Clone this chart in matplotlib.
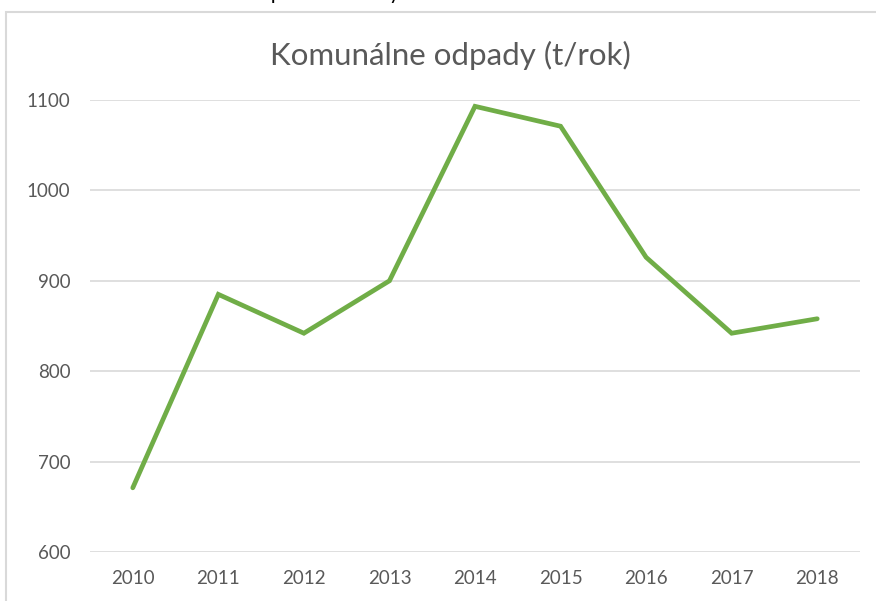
import matplotlib.pyplot as plt
from matplotlib.patches import Rectangle

# ---------------- data ----------------
roky = ["2010", "2011", "2012", "2013", "2014", "2015", "2016", "2017", "2018"]
odpady = [671, 885, 842, 900, 1093, 1071, 926, 842, 858]
y_ticks = [600, 700, 800, 900, 1000, 1100]

plt.rcParams['font.family'] = ['Lato', 'DejaVu Sans']

fig = plt.figure(figsize=(8.76, 6.01), dpi=100)
ax = fig.add_axes([90/876, 1-552/601, 770/876, 452/601])

# chart frame (light gray border, cut at right/bottom)
fig.patches.append(Rectangle((6/876, -0.05), 1.0, 1-12/601+0.05, transform=fig.transFigure,
                             fill=False, edgecolor="#D9D9D9", lw=1.5))

x = range(len(roky))
ax.plot(x, odpady, color="#70AD47", lw=3.4, solid_joinstyle="miter", solid_capstyle="round")

ax.set_xlim(-0.5, len(roky)-0.5)
ax.set_ylim(600, 1100)
ax.set_yticks(y_ticks)
ax.set_xticks(list(x))
ax.set_xticklabels(roky)
ax.grid(axis="y", color="#D9D9D9", lw=1.2)
ax.set_axisbelow(True)
for s in ax.spines.values():
    s.set_visible(False)
ax.tick_params(length=0, labelsize=13.5, labelcolor="#595959")
ax.tick_params(axis="x", pad=13)
ax.tick_params(axis="y", pad=14)

fig.text(450/876, 1-55/601, "Komunálne odpady (t/rok)", ha="center", va="center",
         fontsize=22.5, color="#595959")

# cut-off text of the document above the chart
fig.text(186/876, 1.0 + 1/601, "Trend za posledné roky", ha="left", va="baseline",
         fontsize=15, color="black")

fig.savefig("out.png", dpi=100)
